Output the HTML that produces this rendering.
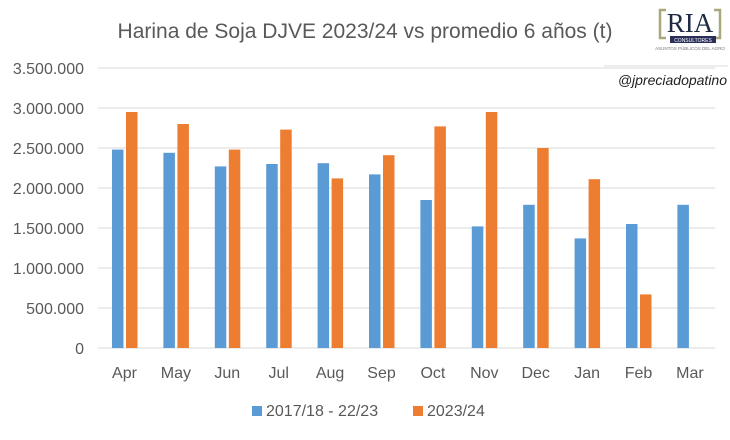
<!DOCTYPE html>
<html><head><meta charset="utf-8"><style>
body{margin:0;background:#fff;}
</style></head><body>
<svg width="730" height="435" xmlns="http://www.w3.org/2000/svg" font-family="Liberation Sans, sans-serif">
<rect width="730" height="435" fill="#fff"/>
<text x="365" y="38" text-anchor="middle" font-size="21" fill="#595959">Harina de Soja DJVE 2023/24 vs promedio 6 años (t)</text>
<!-- logo -->
<text x="690" y="32" text-anchor="middle" font-family="Liberation Serif, serif" font-size="27" fill="#1f2a44">RIA</text>
<path d="M666 10 h-6 v28 h6" fill="none" stroke="#a8a87a" stroke-width="2.5"/>
<path d="M714 10 h6 v28 h-6" fill="none" stroke="#a8a87a" stroke-width="2.5"/>
<rect x="670" y="36" width="46" height="7" fill="#2a2f5a"/>
<text x="693" y="42" text-anchor="middle" font-size="5" fill="#fff">CONSULTORES</text>
<text x="690" y="50" text-anchor="middle" font-size="4.5" fill="#777">ASUNTOS PÚBLICOS DEL AGRO</text>
<line x1="604" y1="66" x2="728" y2="66" stroke="#ddd"/>
<text x="727" y="85" text-anchor="end" font-size="14" font-style="italic" fill="#222">@jpreciadopatino</text>
<!-- grid -->
<g stroke="#d9d9d9" stroke-width="1">
<line x1="98" y1="68" x2="715" y2="68"/><line x1="98" y1="108" x2="715" y2="108"/>
<line x1="98" y1="148" x2="715" y2="148"/><line x1="98" y1="188" x2="715" y2="188"/>
<line x1="98" y1="228" x2="715" y2="228"/><line x1="98" y1="268" x2="715" y2="268"/>
<line x1="98" y1="308" x2="715" y2="308"/><line x1="98" y1="348" x2="715" y2="348"/>
</g>
<g font-size="16" fill="#595959" text-anchor="end">
<text x="84" y="74">3.500.000</text><text x="84" y="114">3.000.000</text>
<text x="84" y="154">2.500.000</text><text x="84" y="194">2.000.000</text>
<text x="84" y="234">1.500.000</text><text x="84" y="274">1.000.000</text>
<text x="84" y="314">500.000</text><text x="84" y="354">0</text>
</g>
<g id="bars"></g>
<g font-size="16" fill="#595959" text-anchor="middle" id="xl"></g>
<rect x="252" y="406" width="10" height="10" fill="#5b9bd5"/>
<text x="266" y="416" font-size="16" fill="#595959">2017/18 - 22/23</text>
<rect x="413" y="406" width="10" height="10" fill="#ed7d31"/>
<text x="427" y="416" font-size="16" fill="#595959">2023/24</text>
<script>
var b=[2.48,2.44,2.27,2.30,2.31,2.17,1.85,1.52,1.79,1.37,1.55,1.79];
var o=[2.95,2.80,2.48,2.73,2.12,2.41,2.77,2.95,2.50,2.11,0.67,0];
var m=["Apr","May","Jun","Jul","Aug","Sep","Oct","Nov","Dec","Jan","Feb","Mar"];
var ns="http://www.w3.org/2000/svg",g=document.getElementById("bars"),xl=document.getElementById("xl");
function r(x,v,c){if(!v)return;var e=document.createElementNS(ns,"rect");var h=v*80;e.setAttribute("x",x);e.setAttribute("y",348-h);e.setAttribute("width",11.5);e.setAttribute("height",h);e.setAttribute("fill",c);g.appendChild(e);}
for(var i=0;i<12;i++){var x=112+i*51.4;
r(x,b[i],"#5b9bd5");r(x+14,o[i],"#ed7d31");
var t=document.createElementNS(ns,"text");t.setAttribute("x",124.5+i*51.4);t.setAttribute("y",378);t.textContent=m[i];xl.appendChild(t);}
</script>
</svg>
</body></html>
